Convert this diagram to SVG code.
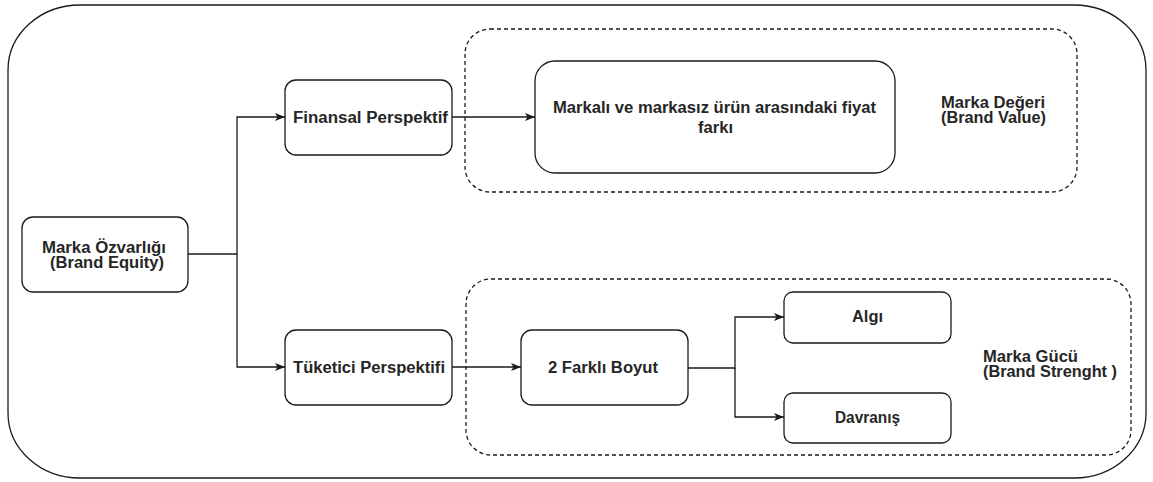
<svg xmlns="http://www.w3.org/2000/svg" width="1153" height="482" viewBox="0 0 1153 482">
<style>
.box{fill:#fff;stroke:#1a1a1a;stroke-width:1.3}
.dash{fill:none;stroke:#1a1a1a;stroke-width:1.3;stroke-dasharray:4 3}
.edge{fill:none;stroke:#1a1a1a;stroke-width:1.3}
text{font-family:"Liberation Sans",Arial,sans-serif;font-size:16px;font-weight:bold;fill:#262626}
</style>
<defs>
<marker id="arr" viewBox="0 0 10 8" refX="10" refY="4" markerWidth="10" markerHeight="8" markerUnits="userSpaceOnUse" orient="auto">
<path d="M0,0 L10,4 L0,8 L2.5,4 Z" fill="#1a1a1a"/>
</marker>
</defs>
<rect width="1153" height="482" fill="#fff"/>
<g id="outer"><rect class="box" x="8" y="5" width="1138" height="473" rx="72" ry="65"/></g>
<g id="group-value"><rect class="dash" x="465" y="29" width="612" height="163" rx="25"/>
<text x="941" y="108" textLength="104" lengthAdjust="spacingAndGlyphs">Marka Değeri</text><text x="941" y="123" textLength="105" lengthAdjust="spacingAndGlyphs">(Brand Value)</text></g>
<g id="group-strength"><rect class="dash" x="466" y="279" width="665" height="176" rx="25"/>
<text x="983" y="362" textLength="95" lengthAdjust="spacingAndGlyphs">Marka Gücü</text><text x="983" y="377" textLength="134" lengthAdjust="spacingAndGlyphs">(Brand Strenght )</text></g>
<g id="connectors">
<path class="edge" d="M188,254 H237 V117 H285" marker-end="url(#arr)"/>
<path class="edge" d="M237,254 V367 H285" marker-end="url(#arr)"/>
<path class="edge" d="M452,117 H535" marker-end="url(#arr)"/>
<path class="edge" d="M452,367 H521" marker-end="url(#arr)"/>
<path class="edge" d="M688,368 H735 V317 H784" marker-end="url(#arr)"/>
<path class="edge" d="M735,368 V417 H784" marker-end="url(#arr)"/>
</g>
<g id="n-equity"><rect class="box" x="22" y="217" width="166" height="75" rx="11"/>
<text x="42" y="253" textLength="124" lengthAdjust="spacingAndGlyphs">Marka Özvarlığı</text><text x="50" y="268" textLength="114" lengthAdjust="spacingAndGlyphs">(Brand Equity)</text></g>
<g id="n-finansal"><rect class="box" x="285" y="80" width="167" height="75" rx="11"/>
<text x="293" y="123" textLength="155" lengthAdjust="spacingAndGlyphs">Finansal Perspektif</text></g>
<g id="n-tuketici"><rect class="box" x="285" y="330" width="167" height="75" rx="11"/>
<text x="293" y="373" textLength="152" lengthAdjust="spacingAndGlyphs">Tüketici Perspektifi</text></g>
<g id="n-fiyat"><rect class="box" x="535" y="61" width="360" height="112" rx="20"/>
<text x="553" y="113" textLength="323" lengthAdjust="spacingAndGlyphs">Markalı ve markasız ürün arasındaki fiyat</text><text x="698" y="133" textLength="35" lengthAdjust="spacingAndGlyphs">farkı</text></g>
<g id="n-boyut"><rect class="box" x="521" y="330" width="167" height="75" rx="11"/>
<text x="548" y="373" textLength="110" lengthAdjust="spacingAndGlyphs">2 Farklı Boyut</text></g>
<g id="n-algi"><rect class="box" x="784" y="292" width="167" height="51" rx="9"/>
<text x="852" y="322" textLength="31" lengthAdjust="spacingAndGlyphs">Algı</text></g>
<g id="n-davranis"><rect class="box" x="784" y="393" width="167" height="50" rx="9"/>
<text x="835" y="423" textLength="65" lengthAdjust="spacingAndGlyphs">Davranış</text></g>
</svg>
